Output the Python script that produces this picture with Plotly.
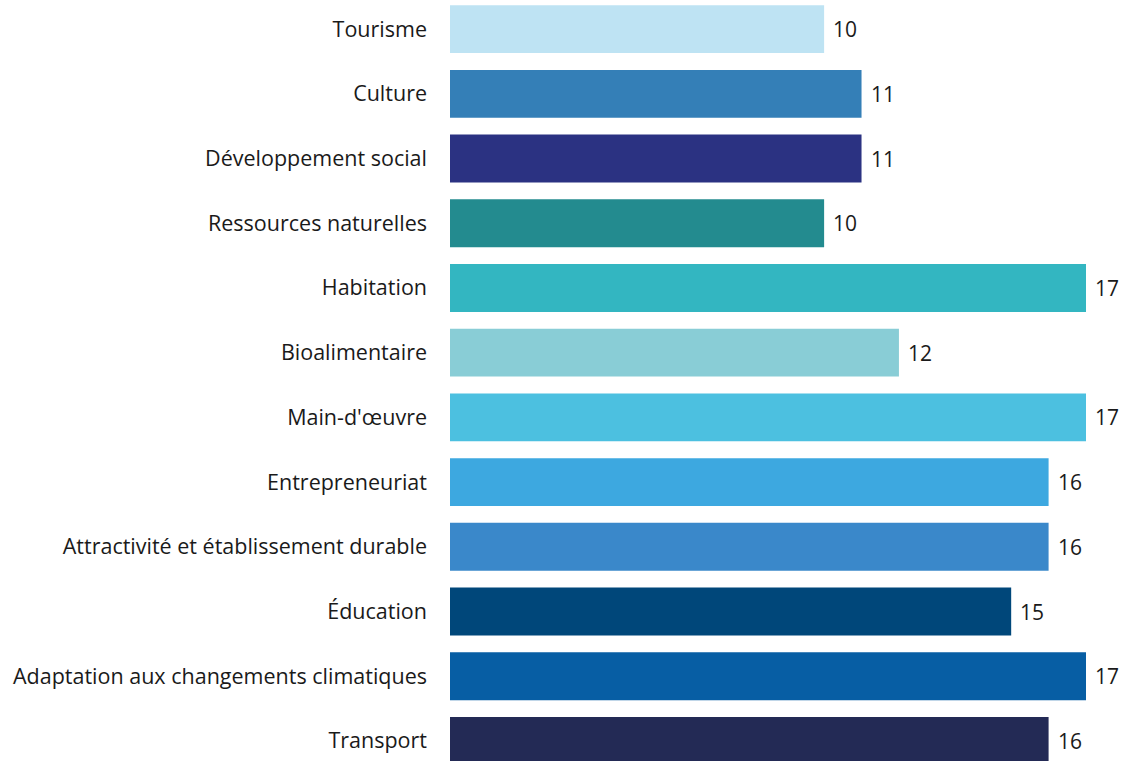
import plotly.graph_objects as go

categories = [
    "Tourisme", "Culture", "Développement social", "Ressources naturelles",
    "Habitation", "Bioalimentaire", "Main-d'œuvre", "Entrepreneuriat",
    "Attractivité et établissement durable", "Éducation",
    "Adaptation aux changements climatiques", "Transport",
]
values = [10, 11, 11, 10, 17, 12, 17, 16, 16, 15, 17, 16]
colors = [
    "#BEE3F3", "#347FB7", "#2B3282", "#238B8F", "#33B6C1", "#89CDD6",
    "#4CC0E0", "#3DA8E0", "#3A88CA", "#00477A", "#075EA4", "#232A55",
]

fig = go.Figure(go.Bar(
    x=values, y=categories, orientation="h",
    marker=dict(color=colors, line=dict(width=0)),
    hoverinfo="x+y",
))

for c, v in zip(categories, values):
    fig.add_annotation(x=v, y=c, text=str(v), showarrow=False,
                       xanchor="left", xshift=7,
                       font=dict(family="Open Sans", size=21, color="#1a1a1a"))

fig.update_layout(
    width=1125, height=761,
    margin=dict(l=450, r=39, t=0, b=0),
    paper_bgcolor="white", plot_bgcolor="white",
    bargap=0.26,
    showlegend=False,
    font=dict(family="Open Sans", size=21.5, color="#1a1a1a"),
    xaxis=dict(range=[0, 17], visible=False, fixedrange=True),
    yaxis=dict(
        categoryorder="array", categoryarray=categories,
        range=[11.31, -0.45],
        showgrid=False, zeroline=False, showline=False,
        ticks="", ticklabelstandoff=22,
        tickfont=dict(family="Open Sans", size=21.5, color="#1a1a1a"),
    ),
)

fig.write_html("out.html")
